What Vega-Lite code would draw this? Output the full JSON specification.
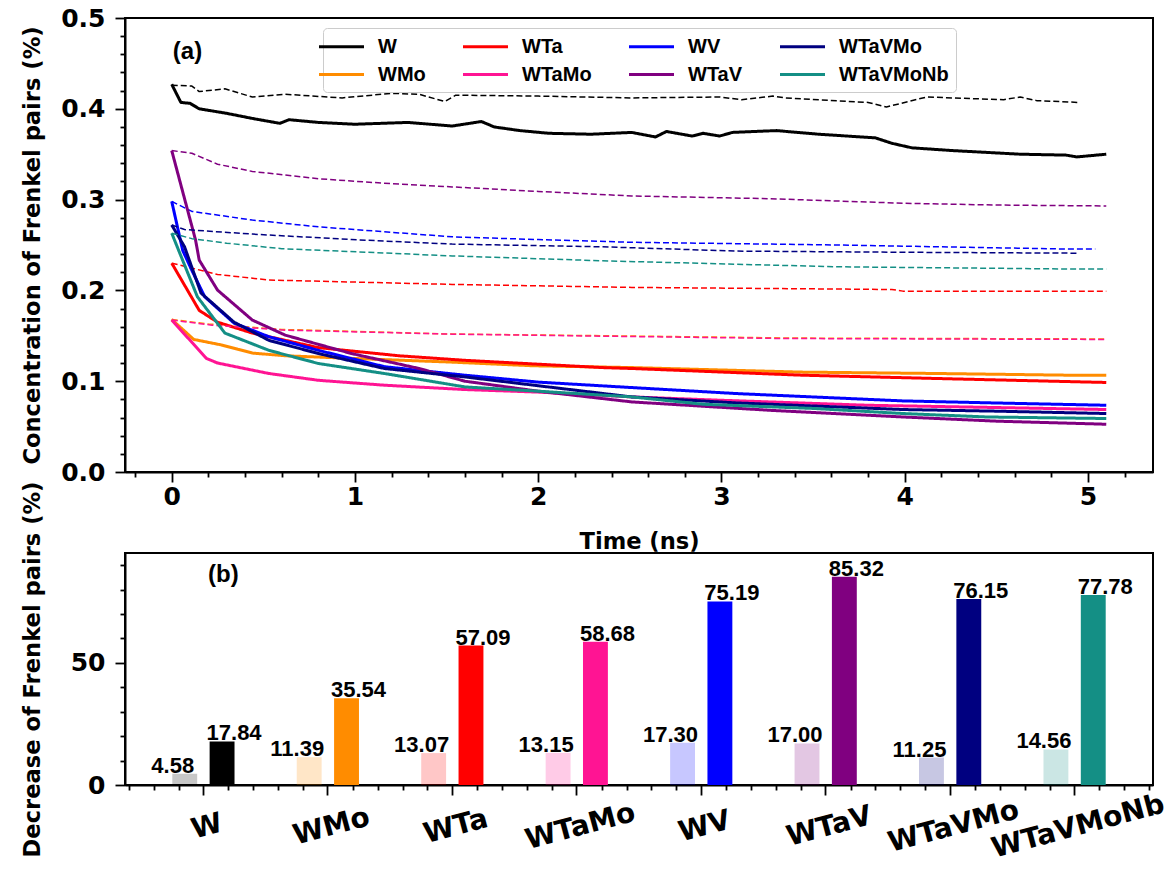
{
"$schema": "https://vega.github.io/schema/vega-lite/v6.json",
"padding": {"left": 19, "top": 5, "right": 5, "bottom": 5},
"spacing": 81,
"bounds": "flush",
"datasets": {
"bars": [
{"alloy":"W","stage":"initial","value":4.58},{"alloy":"W","stage":"final","value":17.84},
{"alloy":"WMo","stage":"initial","value":11.39},{"alloy":"WMo","stage":"final","value":35.54},
{"alloy":"WTa","stage":"initial","value":13.07},{"alloy":"WTa","stage":"final","value":57.09},
{"alloy":"WTaMo","stage":"initial","value":13.15},{"alloy":"WTaMo","stage":"final","value":58.68},
{"alloy":"WV","stage":"initial","value":17.30},{"alloy":"WV","stage":"final","value":75.19},
{"alloy":"WTaV","stage":"initial","value":17.00},{"alloy":"WTaV","stage":"final","value":85.32},
{"alloy":"WTaVMo","stage":"initial","value":11.25},{"alloy":"WTaVMo","stage":"final","value":76.15},
{"alloy":"WTaVMoNb","stage":"initial","value":14.56},{"alloy":"WTaVMoNb","stage":"final","value":77.78}
],
"lines": [
{"alloy":"W","kind":"solid","time":0,"conc":0.427},{"alloy":"W","kind":"solid","time":0.05,"conc":0.407},{"alloy":"W","kind":"solid","time":0.1,"conc":0.406},{"alloy":"W","kind":"solid","time":0.15,"conc":0.4},{"alloy":"W","kind":"solid","time":0.3,"conc":0.395},{"alloy":"W","kind":"solid","time":0.45,"conc":0.389},{"alloy":"W","kind":"solid","time":0.59,"conc":0.384},{"alloy":"W","kind":"solid","time":0.64,"conc":0.388},{"alloy":"W","kind":"solid","time":0.8,"conc":0.385},{"alloy":"W","kind":"solid","time":1.0,"conc":0.383},{"alloy":"W","kind":"solid","time":1.29,"conc":0.385},{"alloy":"W","kind":"solid","time":1.53,"conc":0.381},{"alloy":"W","kind":"solid","time":1.69,"conc":0.386},{"alloy":"W","kind":"solid","time":1.76,"conc":0.38},{"alloy":"W","kind":"solid","time":1.9,"conc":0.376},{"alloy":"W","kind":"solid","time":2.06,"conc":0.373},{"alloy":"W","kind":"solid","time":2.29,"conc":0.372},{"alloy":"W","kind":"solid","time":2.51,"conc":0.374},{"alloy":"W","kind":"solid","time":2.64,"conc":0.369},{"alloy":"W","kind":"solid","time":2.7,"conc":0.375},{"alloy":"W","kind":"solid","time":2.84,"conc":0.37},{"alloy":"W","kind":"solid","time":2.9,"conc":0.373},{"alloy":"W","kind":"solid","time":2.99,"conc":0.37},{"alloy":"W","kind":"solid","time":3.06,"conc":0.374},{"alloy":"W","kind":"solid","time":3.3,"conc":0.376},{"alloy":"W","kind":"solid","time":3.53,"conc":0.372},{"alloy":"W","kind":"solid","time":3.84,"conc":0.368},{"alloy":"W","kind":"solid","time":3.93,"conc":0.362},{"alloy":"W","kind":"solid","time":4.04,"conc":0.357},{"alloy":"W","kind":"solid","time":4.26,"conc":0.354},{"alloy":"W","kind":"solid","time":4.63,"conc":0.35},{"alloy":"W","kind":"solid","time":4.88,"conc":0.349},{"alloy":"W","kind":"solid","time":4.94,"conc":0.347},{"alloy":"W","kind":"solid","time":5.1,"conc":0.35},
{"alloy":"W","kind":"dashed","time":0,"conc":0.426},{"alloy":"W","kind":"dashed","time":0.11,"conc":0.425},{"alloy":"W","kind":"dashed","time":0.15,"conc":0.419},{"alloy":"W","kind":"dashed","time":0.29,"conc":0.422},{"alloy":"W","kind":"dashed","time":0.44,"conc":0.413},{"alloy":"W","kind":"dashed","time":0.62,"conc":0.416},{"alloy":"W","kind":"dashed","time":0.93,"conc":0.412},{"alloy":"W","kind":"dashed","time":1.2,"conc":0.417},{"alloy":"W","kind":"dashed","time":1.35,"conc":0.416},{"alloy":"W","kind":"dashed","time":1.49,"conc":0.408},{"alloy":"W","kind":"dashed","time":1.55,"conc":0.415},{"alloy":"W","kind":"dashed","time":2.0,"conc":0.414},{"alloy":"W","kind":"dashed","time":2.51,"conc":0.412},{"alloy":"W","kind":"dashed","time":2.99,"conc":0.413},{"alloy":"W","kind":"dashed","time":3.11,"conc":0.41},{"alloy":"W","kind":"dashed","time":3.28,"conc":0.414},{"alloy":"W","kind":"dashed","time":3.35,"conc":0.412},{"alloy":"W","kind":"dashed","time":3.8,"conc":0.407},{"alloy":"W","kind":"dashed","time":3.9,"conc":0.402},{"alloy":"W","kind":"dashed","time":4.12,"conc":0.413},{"alloy":"W","kind":"dashed","time":4.54,"conc":0.41},{"alloy":"W","kind":"dashed","time":4.63,"conc":0.413},{"alloy":"W","kind":"dashed","time":4.72,"conc":0.409},{"alloy":"W","kind":"dashed","time":4.95,"conc":0.407},
{"alloy":"WMo","kind":"solid","time":0,"conc":0.168},{"alloy":"WMo","kind":"solid","time":0.12,"conc":0.146},{"alloy":"WMo","kind":"solid","time":0.27,"conc":0.14},{"alloy":"WMo","kind":"solid","time":0.44,"conc":0.131},{"alloy":"WMo","kind":"solid","time":0.62,"conc":0.128},{"alloy":"WMo","kind":"solid","time":1.0,"conc":0.125},{"alloy":"WMo","kind":"solid","time":1.53,"conc":0.121},{"alloy":"WMo","kind":"solid","time":1.97,"conc":0.117},{"alloy":"WMo","kind":"solid","time":2.51,"conc":0.115},{"alloy":"WMo","kind":"solid","time":3.44,"conc":0.11},{"alloy":"WMo","kind":"solid","time":4.17,"conc":0.1085},{"alloy":"WMo","kind":"solid","time":4.9,"conc":0.1066},{"alloy":"WMo","kind":"solid","time":5.1,"conc":0.1066},
{"alloy":"WMo","kind":"dashed","time":0,"conc":0.168},{"alloy":"WMo","kind":"dashed","time":0.2,"conc":0.163},{"alloy":"WMo","kind":"dashed","time":0.6,"conc":0.157},{"alloy":"WMo","kind":"dashed","time":1.5,"conc":0.152},{"alloy":"WMo","kind":"dashed","time":2.4,"conc":0.15},{"alloy":"WMo","kind":"dashed","time":3.4,"conc":0.1475},{"alloy":"WMo","kind":"dashed","time":5.1,"conc":0.1465},
{"alloy":"WTa","kind":"solid","time":0,"conc":0.23},{"alloy":"WTa","kind":"solid","time":0.15,"conc":0.178},{"alloy":"WTa","kind":"solid","time":0.25,"conc":0.165},{"alloy":"WTa","kind":"solid","time":0.44,"conc":0.153},{"alloy":"WTa","kind":"solid","time":0.8,"conc":0.137},{"alloy":"WTa","kind":"solid","time":1.24,"conc":0.128},{"alloy":"WTa","kind":"solid","time":1.6,"conc":0.123},{"alloy":"WTa","kind":"solid","time":1.88,"conc":0.12},{"alloy":"WTa","kind":"solid","time":2.35,"conc":0.115},{"alloy":"WTa","kind":"solid","time":2.51,"conc":0.114},{"alloy":"WTa","kind":"solid","time":3.44,"conc":0.1066},{"alloy":"WTa","kind":"solid","time":4.17,"conc":0.103},{"alloy":"WTa","kind":"solid","time":5.1,"conc":0.0986},
{"alloy":"WTa","kind":"dashed","time":0,"conc":0.23},{"alloy":"WTa","kind":"dashed","time":0.25,"conc":0.2176},{"alloy":"WTa","kind":"dashed","time":0.53,"conc":0.2114},{"alloy":"WTa","kind":"dashed","time":1.53,"conc":0.2066},{"alloy":"WTa","kind":"dashed","time":2.51,"conc":0.2033},{"alloy":"WTa","kind":"dashed","time":3.93,"conc":0.201},{"alloy":"WTa","kind":"dashed","time":3.99,"conc":0.1992},{"alloy":"WTa","kind":"dashed","time":5.1,"conc":0.1992},
{"alloy":"WTaMo","kind":"solid","time":0,"conc":0.1673},{"alloy":"WTaMo","kind":"solid","time":0.19,"conc":0.125},{"alloy":"WTaMo","kind":"solid","time":0.25,"conc":0.12},{"alloy":"WTaMo","kind":"solid","time":0.53,"conc":0.1085},{"alloy":"WTaMo","kind":"solid","time":0.8,"conc":0.101},{"alloy":"WTaMo","kind":"solid","time":1.16,"conc":0.0956},{"alloy":"WTaMo","kind":"solid","time":1.6,"conc":0.0908},{"alloy":"WTaMo","kind":"solid","time":2.0,"conc":0.088},{"alloy":"WTaMo","kind":"solid","time":2.51,"conc":0.0827},{"alloy":"WTaMo","kind":"solid","time":3.0,"conc":0.079},{"alloy":"WTaMo","kind":"solid","time":3.8,"conc":0.0735},{"alloy":"WTaMo","kind":"solid","time":4.5,"conc":0.071},{"alloy":"WTaMo","kind":"solid","time":5.1,"conc":0.0688},
{"alloy":"WTaMo","kind":"dashed","time":0,"conc":0.1673},{"alloy":"WTaMo","kind":"dashed","time":0.22,"conc":0.1617},{"alloy":"WTaMo","kind":"dashed","time":0.62,"conc":0.1562},{"alloy":"WTaMo","kind":"dashed","time":1.53,"conc":0.1518},{"alloy":"WTaMo","kind":"dashed","time":2.35,"conc":0.1496},{"alloy":"WTaMo","kind":"dashed","time":3.35,"conc":0.147},{"alloy":"WTaMo","kind":"dashed","time":5.1,"conc":0.146},
{"alloy":"WV","kind":"solid","time":0,"conc":0.298},{"alloy":"WV","kind":"solid","time":0.06,"conc":0.244},{"alloy":"WV","kind":"solid","time":0.11,"conc":0.222},{"alloy":"WV","kind":"solid","time":0.18,"conc":0.193},{"alloy":"WV","kind":"solid","time":0.34,"conc":0.164},{"alloy":"WV","kind":"solid","time":0.53,"conc":0.149},{"alloy":"WV","kind":"solid","time":0.8,"conc":0.134},{"alloy":"WV","kind":"solid","time":1.16,"conc":0.116},{"alloy":"WV","kind":"solid","time":1.6,"conc":0.1066},{"alloy":"WV","kind":"solid","time":2.0,"conc":0.099},{"alloy":"WV","kind":"solid","time":2.51,"conc":0.093},{"alloy":"WV","kind":"solid","time":3.08,"conc":0.0864},{"alloy":"WV","kind":"solid","time":3.99,"conc":0.0783},{"alloy":"WV","kind":"solid","time":4.5,"conc":0.076},{"alloy":"WV","kind":"solid","time":5.1,"conc":0.0735},
{"alloy":"WV","kind":"dashed","time":0,"conc":0.298},{"alloy":"WV","kind":"dashed","time":0.11,"conc":0.287},{"alloy":"WV","kind":"dashed","time":0.44,"conc":0.2775},{"alloy":"WV","kind":"dashed","time":0.8,"conc":0.27},{"alloy":"WV","kind":"dashed","time":1.53,"conc":0.259},{"alloy":"WV","kind":"dashed","time":2.0,"conc":0.256},{"alloy":"WV","kind":"dashed","time":2.51,"conc":0.253},{"alloy":"WV","kind":"dashed","time":3.63,"conc":0.25},{"alloy":"WV","kind":"dashed","time":4.9,"conc":0.2455},{"alloy":"WV","kind":"dashed","time":5.04,"conc":0.2455},
{"alloy":"WTaV","kind":"solid","time":0,"conc":0.354},{"alloy":"WTaV","kind":"solid","time":0.13,"conc":0.2555},{"alloy":"WTaV","kind":"solid","time":0.15,"conc":0.2334},{"alloy":"WTaV","kind":"solid","time":0.25,"conc":0.2003},{"alloy":"WTaV","kind":"solid","time":0.44,"conc":0.1673},{"alloy":"WTaV","kind":"solid","time":0.62,"conc":0.1507},{"alloy":"WTaV","kind":"solid","time":0.98,"conc":0.1305},{"alloy":"WTaV","kind":"solid","time":1.35,"conc":0.114},{"alloy":"WTaV","kind":"solid","time":1.6,"conc":0.1},{"alloy":"WTaV","kind":"solid","time":2.0,"conc":0.089},{"alloy":"WTaV","kind":"solid","time":2.51,"conc":0.0772},{"alloy":"WTaV","kind":"solid","time":3.26,"conc":0.068},{"alloy":"WTaV","kind":"solid","time":3.99,"conc":0.0606},{"alloy":"WTaV","kind":"solid","time":4.5,"conc":0.056},{"alloy":"WTaV","kind":"solid","time":5.1,"conc":0.0526},
{"alloy":"WTaV","kind":"dashed","time":0,"conc":0.354},{"alloy":"WTaV","kind":"dashed","time":0.11,"conc":0.351},{"alloy":"WTaV","kind":"dashed","time":0.25,"conc":0.339},{"alloy":"WTaV","kind":"dashed","time":0.44,"conc":0.331},{"alloy":"WTaV","kind":"dashed","time":0.8,"conc":0.323},{"alloy":"WTaV","kind":"dashed","time":1.16,"conc":0.318},{"alloy":"WTaV","kind":"dashed","time":1.53,"conc":0.314},{"alloy":"WTaV","kind":"dashed","time":2.0,"conc":0.309},{"alloy":"WTaV","kind":"dashed","time":2.51,"conc":0.304},{"alloy":"WTaV","kind":"dashed","time":3.26,"conc":0.301},{"alloy":"WTaV","kind":"dashed","time":3.99,"conc":0.296},{"alloy":"WTaV","kind":"dashed","time":4.5,"conc":0.294},{"alloy":"WTaV","kind":"dashed","time":5.1,"conc":0.293},
{"alloy":"WTaVMo","kind":"solid","time":0,"conc":0.272},{"alloy":"WTaVMo","kind":"solid","time":0.07,"conc":0.248},{"alloy":"WTaVMo","kind":"solid","time":0.16,"conc":0.197},{"alloy":"WTaVMo","kind":"solid","time":0.34,"conc":0.165},{"alloy":"WTaVMo","kind":"solid","time":0.53,"conc":0.145},{"alloy":"WTaVMo","kind":"solid","time":0.8,"conc":0.1305},{"alloy":"WTaVMo","kind":"solid","time":1.16,"conc":0.114},{"alloy":"WTaVMo","kind":"solid","time":1.6,"conc":0.1047},{"alloy":"WTaVMo","kind":"solid","time":2.0,"conc":0.095},{"alloy":"WTaVMo","kind":"solid","time":2.51,"conc":0.0827},{"alloy":"WTaVMo","kind":"solid","time":3.08,"conc":0.0761},{"alloy":"WTaVMo","kind":"solid","time":3.99,"conc":0.0688},{"alloy":"WTaVMo","kind":"solid","time":4.5,"conc":0.067},{"alloy":"WTaVMo","kind":"solid","time":5.1,"conc":0.0644},
{"alloy":"WTaVMo","kind":"dashed","time":0,"conc":0.272},{"alloy":"WTaVMo","kind":"dashed","time":0.07,"conc":0.267},{"alloy":"WTaVMo","kind":"dashed","time":0.44,"conc":0.262},{"alloy":"WTaVMo","kind":"dashed","time":0.98,"conc":0.256},{"alloy":"WTaVMo","kind":"dashed","time":1.53,"conc":0.251},{"alloy":"WTaVMo","kind":"dashed","time":2.35,"conc":0.248},{"alloy":"WTaVMo","kind":"dashed","time":3.08,"conc":0.2433},{"alloy":"WTaVMo","kind":"dashed","time":4.0,"conc":0.242},{"alloy":"WTaVMo","kind":"dashed","time":4.94,"conc":0.241},
{"alloy":"WTaVMoNb","kind":"solid","time":0,"conc":0.263},{"alloy":"WTaVMoNb","kind":"solid","time":0.14,"conc":0.193},{"alloy":"WTaVMoNb","kind":"solid","time":0.29,"conc":0.153},{"alloy":"WTaVMoNb","kind":"solid","time":0.53,"conc":0.134},{"alloy":"WTaVMoNb","kind":"solid","time":0.8,"conc":0.1195},{"alloy":"WTaVMoNb","kind":"solid","time":1.16,"conc":0.1085},{"alloy":"WTaVMoNb","kind":"solid","time":1.6,"conc":0.0937},{"alloy":"WTaVMoNb","kind":"solid","time":2.0,"conc":0.089},{"alloy":"WTaVMoNb","kind":"solid","time":2.51,"conc":0.0827},{"alloy":"WTaVMoNb","kind":"solid","time":2.9,"conc":0.0746},{"alloy":"WTaVMoNb","kind":"solid","time":3.5,"conc":0.07},{"alloy":"WTaVMoNb","kind":"solid","time":3.99,"conc":0.0644},{"alloy":"WTaVMoNb","kind":"solid","time":4.45,"conc":0.0606},{"alloy":"WTaVMoNb","kind":"solid","time":5.1,"conc":0.0589},
{"alloy":"WTaVMoNb","kind":"dashed","time":0,"conc":0.263},{"alloy":"WTaVMoNb","kind":"dashed","time":0.11,"conc":0.257},{"alloy":"WTaVMoNb","kind":"dashed","time":0.3,"conc":0.252},{"alloy":"WTaVMoNb","kind":"dashed","time":0.6,"conc":0.246},{"alloy":"WTaVMoNb","kind":"dashed","time":1.53,"conc":0.238},{"alloy":"WTaVMoNb","kind":"dashed","time":2.35,"conc":0.2326},{"alloy":"WTaVMoNb","kind":"dashed","time":3.63,"conc":0.226},{"alloy":"WTaVMoNb","kind":"dashed","time":4.94,"conc":0.2235},{"alloy":"WTaVMoNb","kind":"dashed","time":5.1,"conc":0.2235}
]
},
"vconcat": [
{
"width": 1028, "height": 454,
"data": {"name": "lines"},
"layer": [
{
"mark": {"type": "line", "strokeJoin": "round"},
"encoding": {
"x": {"field": "time", "type": "quantitative", "title": "Time (ns)",
 "scale": {"domain": [-0.255, 5.355], "nice": false, "zero": false},
 "axis": {"values": [-0.2,0,0.2,0.4,0.6,0.8,1,1.2,1.4,1.6,1.8,2,2.2,2.4,2.6,2.8,3,3.2,3.4,3.6,3.8,4,4.2,4.4,4.6,4.8,5,5.2],
  "tickCount": 200,
  "labelExpr": "abs(datum.value - round(datum.value)) < 0.001 ? format(datum.value, 'd') : ''",
  "tickSize": {"condition": {"test": "abs(datum.value - round(datum.value)) < 0.001", "value": 10}, "value": 5},
  "labelOverlap": false, "labelFlush": false, "labelPadding": 2, "titlePadding": 21}},
"y": {"field": "conc", "type": "quantitative", "title": "Concentration of Frenkel pairs (%)",
 "scale": {"domain": [0, 0.5], "nice": false, "zero": false},
 "axis": {"values": [0,0.02,0.04,0.06,0.08,0.1,0.12,0.14,0.16,0.18,0.2,0.22,0.24,0.26,0.28,0.3,0.32,0.34,0.36,0.38,0.4,0.42,0.44,0.46,0.48,0.5],
  "tickCount": 200,
  "labelExpr": "abs(datum.value*10 - round(datum.value*10)) < 0.001 ? format(datum.value, '.1f') : ''",
  "tickSize": {"condition": {"test": "abs(datum.value*10 - round(datum.value*10)) < 0.001", "value": 10}, "value": 5},
  "labelOverlap": false, "labelFlush": false, "labelPadding": 10, "minExtent": 69, "maxExtent": 69, "titlePadding": 12}},
"color": {"field": "alloy", "type": "nominal",
 "scale": {"domain": ["W","WTa","WV","WTaVMo","WMo","WTaMo","WTaV","WTaVMoNb"],
  "range": ["#000000","#ff0000","#0000ff","#000080","#ff8c00","#ff1493","#800080","#148f85"]},
 "legend": {"orient": "none", "legendX": 198, "legendY": 10, "direction": "horizontal", "columns": 4, "title": null,
  "symbolType": "M-2.25,0L2.25,0", "symbolSize": 400, "symbolStrokeWidth": 3, "labelFont": "Liberation Sans", "labelFontSize": 20, "labelFontWeight": "bold", "labelColor": "black",
  "labelOffset": 25, "columnPadding": 31, "rowPadding": 6, "padding": 7, "fillColor": "white", "strokeColor": "#cccccc", "cornerRadius": 4}},
"strokeDash": {"field": "kind", "type": "nominal", "scale": {"domain": ["solid","dashed"], "range": [[1,0],[6,3]]}, "legend": null},
"strokeWidth": {"field": "kind", "type": "nominal", "scale": {"domain": ["solid","dashed"], "range": [3, 1.5]}, "legend": null}
}
},
{
"data": {"values": [{}]},
"mark": {"type": "text", "text": "(a)", "font": "Liberation Sans", "fontSize": 24, "fontWeight": "bold", "align": "center", "baseline": "middle", "color": "black"},
"encoding": {"x": {"datum": 0.086}, "y": {"datum": 0.463}}
}
]
},
{
"width": 1028, "height": 232,
"data": {"name": "bars"},
"layer": [
{
"layer": [
{
"mark": {"type": "bar"},
"encoding": {
"x": {"field": "alloy", "type": "nominal", "title": null, "sort": ["W","WMo","WTa","WTaMo","WV","WTaV","WTaVMo","WTaVMoNb"],
 "scale": {"paddingInner": 0.5, "paddingOuter": 0.38},
 "axis": {"labelAngle": -15, "labelAlign": "center", "labelBaseline": "top", "labelFontSize": 28, "labelPadding": 18, "tickSize": 10, "labelOverlap": false}},
"xOffset": {"field": "stage", "type": "nominal", "sort": ["initial","final"], "scale": {"paddingInner": 0.3333, "paddingOuter": 0}},
"y": {"field": "value", "type": "quantitative", "title": "Decrease of Frenkel pairs (%)",
 "scale": {"domain": [0, 95], "nice": false},
 "axis": {"values": [0,10,20,30,40,50,60,70,80,90],
  "tickCount": 200,
  "labelExpr": "datum.value % 50 === 0 ? format(datum.value, 'd') : ''",
  "tickSize": {"condition": {"test": "datum.value % 50 === 0", "value": 10}, "value": 5},
  "labelOverlap": false, "labelFlush": false, "labelPadding": 10, "minExtent": 69, "maxExtent": 69, "titlePadding": 12}},
"color": {"field": "alloy", "type": "nominal",
 "scale": {"domain": ["W","WTa","WV","WTaVMo","WMo","WTaMo","WTaV","WTaVMoNb"],
  "range": ["#000000","#ff0000","#0000ff","#000080","#ff8c00","#ff1493","#800080","#148f85"]}, "legend": null},
"opacity": {"field": "stage", "type": "nominal", "scale": {"domain": ["initial","final"], "range": [0.22, 1]}, "legend": null}
}
},
{
"transform": [{"filter": "datum.stage === 'initial'"}],
"mark": {"type": "text", "font": "Liberation Sans", "fontSize": 22, "fontWeight": "bold", "baseline": "alphabetic", "align": "center", "dy": -1, "dx": -12, "color": "black"},
"encoding": {
"x": {"field": "alloy", "type": "nominal", "sort": ["W","WMo","WTa","WTaMo","WV","WTaV","WTaVMo","WTaVMoNb"]},
"xOffset": {"field": "stage", "type": "nominal", "sort": ["initial","final"]},
"y": {"field": "value", "type": "quantitative"},
"text": {"field": "value", "type": "quantitative", "format": ".2f"}
}
},
{
"transform": [{"filter": "datum.stage === 'final'"}],
"mark": {"type": "text", "font": "Liberation Sans", "fontSize": 22, "fontWeight": "bold", "baseline": "alphabetic", "align": "center", "dy": -1, "dx": 12, "color": "black"},
"encoding": {
"x": {"field": "alloy", "type": "nominal", "sort": ["W","WMo","WTa","WTaMo","WV","WTaV","WTaVMo","WTaVMoNb"]},
"xOffset": {"field": "stage", "type": "nominal", "sort": ["initial","final"]},
"y": {"field": "value", "type": "quantitative"},
"text": {"field": "value", "type": "quantitative", "format": ".2f"}
}
}
]
},
{
"data": {"values": [{}]},
"mark": {"type": "text", "text": "(b)", "font": "Liberation Sans", "fontSize": 24, "fontWeight": "bold", "align": "center", "baseline": "middle", "color": "black"},
"encoding": {
"x": {"datum": 0.16, "type": "quantitative", "scale": {"domain": [-0.63, 7.63], "nice": false, "zero": false},
 "axis": {"orient": "bottom", "values": [-0.6,-0.4,-0.2,0.2,0.4,0.6,0.8,1.2,1.4,1.6,1.8,2.2,2.4,2.6,2.8,3.2,3.4,3.6,3.8,4.2,4.4,4.6,4.8,5.2,5.4,5.6,5.8,6.2,6.4,6.6,6.8,7.2,7.4,7.6],
  "tickCount": 200, "labels": false, "domain": false, "tickSize": 5, "title": null, "grid": false}},
"y": {"datum": 86, "type": "quantitative"}
}
}
],
"resolve": {"scale": {"x": "independent"}}
}
],
"resolve": {"scale": {"color": "independent"}},
"config": {
"font": "DejaVu Sans",
"view": {"stroke": "black", "strokeWidth": 2},
"axis": {"domainColor": "black", "domainWidth": 2, "tickColor": "black", "tickWidth": 1.8, "labelColor": "black", "labelFont": "DejaVu Sans", "labelFontWeight": "bold", "labelFontSize": 25, "titleFont": "DejaVu Sans", "titleFontWeight": "bold", "titleFontSize": 22.6, "titleColor": "black", "grid": false}
}
}
